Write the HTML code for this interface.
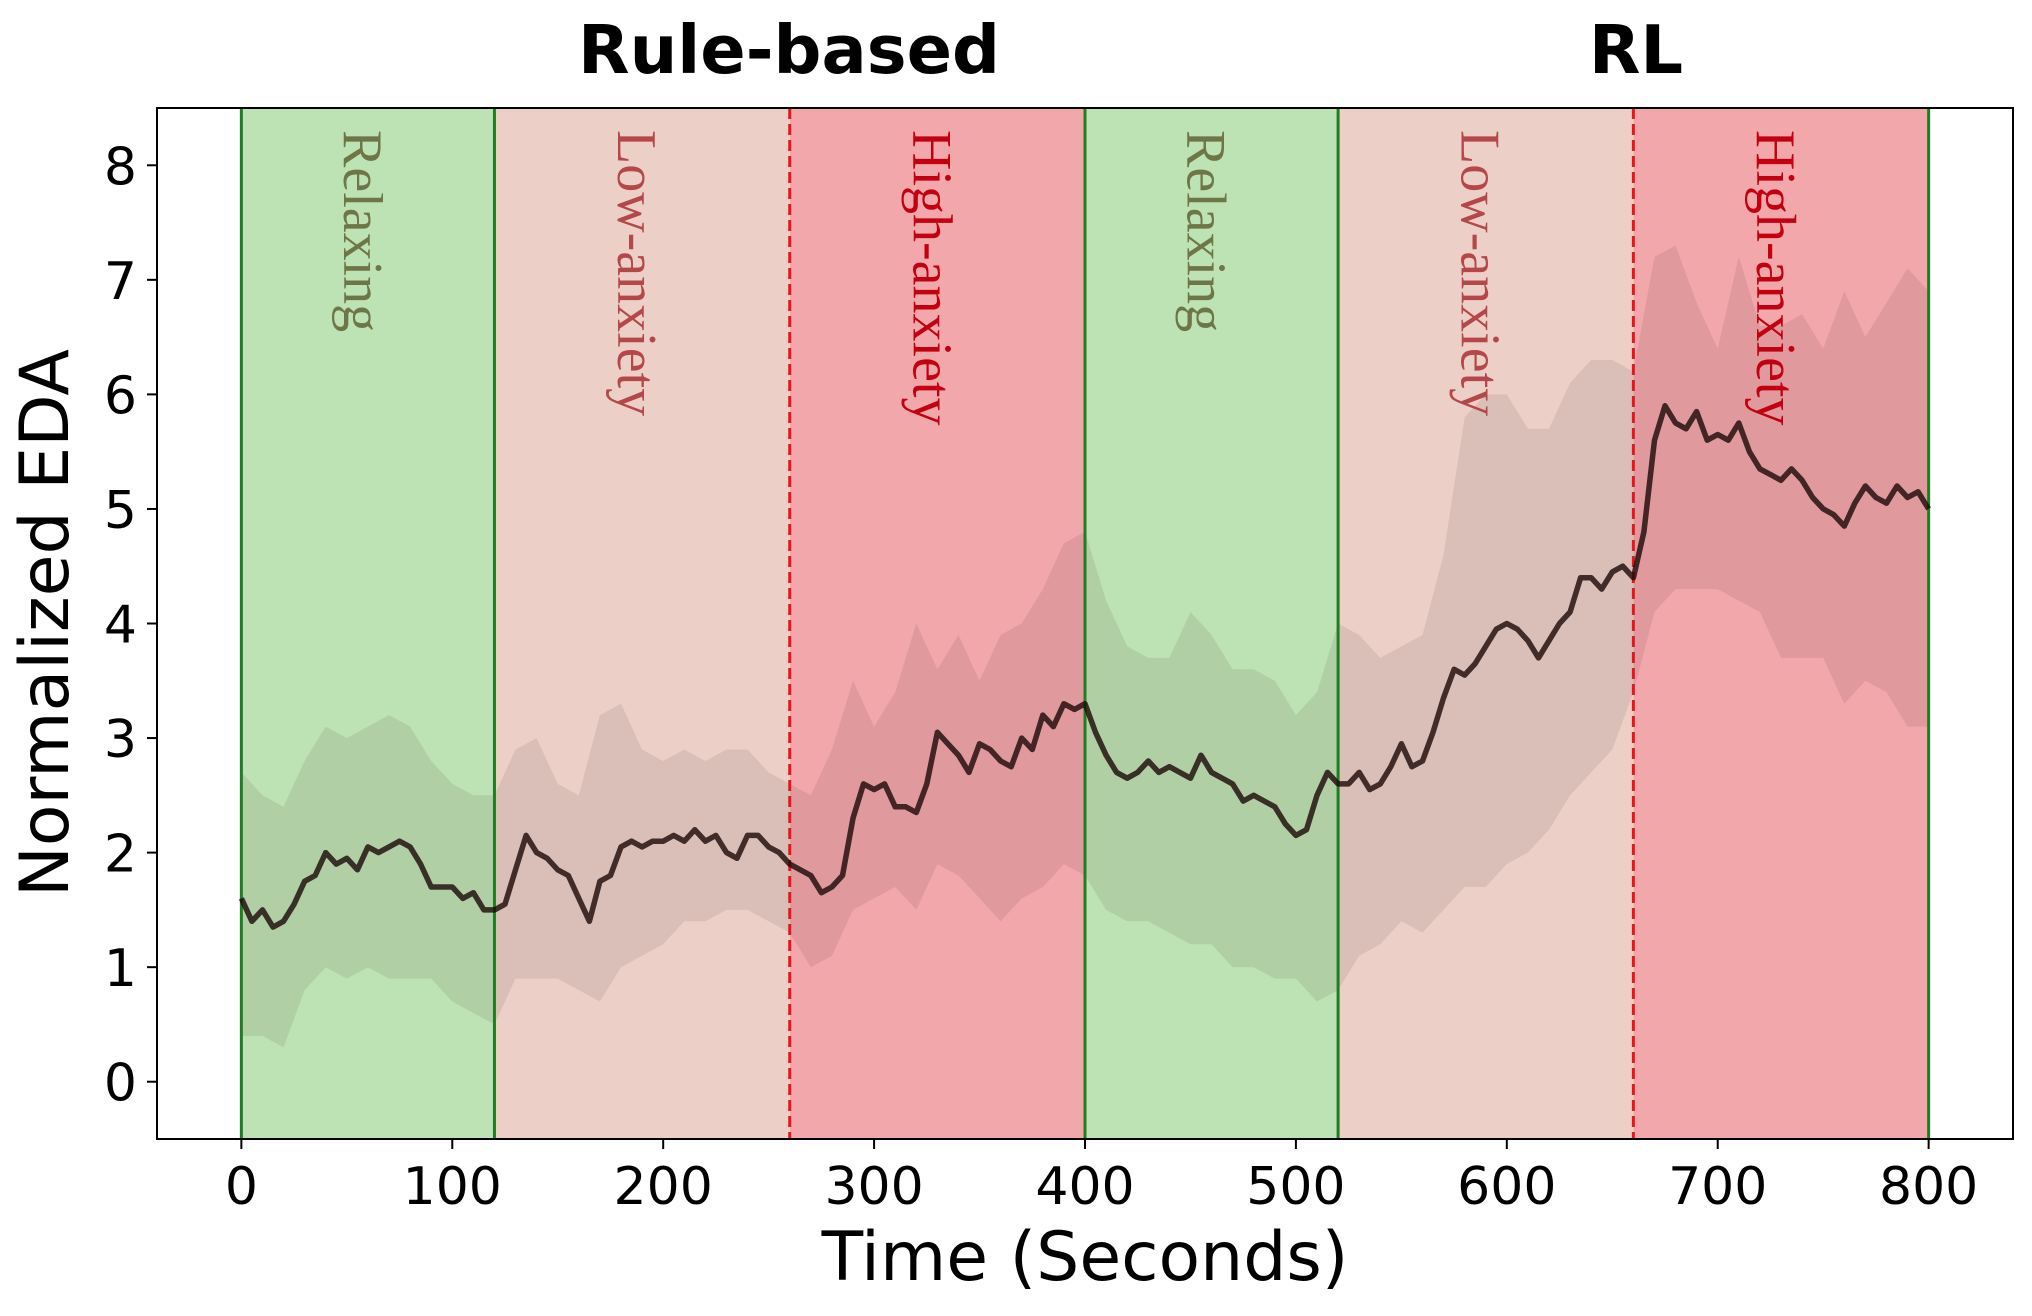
<!DOCTYPE html>
<html><head><meta charset="utf-8"><style>
html,body{margin:0;padding:0;background:#fff;}
svg{display:block;}
</style></head><body>
<svg id="chart" width="2032" height="1316" viewBox="0 0 2032 1316" xmlns="http://www.w3.org/2000/svg">
<g id="spans"></g>
<g id="band"></g>
<g id="vlines"></g>
<g id="meanline"></g>
<g id="labels"></g>
<rect x="157" y="108" width="1856" height="1031" fill="none" stroke="#000" stroke-width="2"/>
<g id="axes"></g>
<text x="789" y="73" font-family="DejaVu Sans, sans-serif" font-weight="bold" font-size="67" text-anchor="middle">Rule-based</text>
<text x="1636" y="73" font-family="DejaVu Sans, sans-serif" font-weight="bold" font-size="67" text-anchor="middle">RL</text>
<text x="1085" y="1280" font-family="DejaVu Sans, sans-serif" font-size="68" text-anchor="middle">Time (Seconds)</text>
<text transform="translate(68,623) rotate(-90)" font-family="DejaVu Sans, sans-serif" font-size="68" text-anchor="middle">Normalized EDA</text>
</svg>
<script>
const meanT = [];
for (let i = 0; i <= 160; i++) meanT.push(i * 5);
const meanVals = [1.6,1.4,1.5,1.35,1.4,1.55,1.75,1.8,2.0,1.9,1.95,1.85,2.05,2.0,2.05,2.1,2.05,1.9,1.7,1.7,1.7,1.6,1.65,1.5,1.5,1.55,1.85,2.15,2.0,1.95,1.85,1.8,1.6,1.4,1.75,1.8,2.05,2.1,2.05,2.1,2.1,2.15,2.1,2.2,2.1,2.15,2.0,1.95,2.15,2.15,2.05,2.0,1.9,1.85,1.8,1.65,1.7,1.8,2.3,2.6,2.55,2.6,2.4,2.4,2.35,2.6,3.05,2.95,2.85,2.7,2.95,2.9,2.8,2.75,3.0,2.9,3.2,3.1,3.3,3.25,3.3,3.05,2.85,2.7,2.65,2.7,2.8,2.7,2.75,2.7,2.65,2.85,2.7,2.65,2.6,2.45,2.5,2.45,2.4,2.25,2.15,2.2,2.5,2.7,2.6,2.6,2.7,2.55,2.6,2.75,2.95,2.75,2.8,3.05,3.35,3.6,3.55,3.65,3.8,3.95,4.0,3.95,3.85,3.7,3.85,4.0,4.1,4.4,4.4,4.3,4.45,4.5,4.4,4.8,5.6,5.9,5.75,5.7,5.85,5.6,5.65,5.6,5.75,5.5,5.35,5.3,5.25,5.35,5.25,5.1,5.0,4.95,4.85,5.05,5.2,5.1,5.05,5.2,5.1,5.15,5.0];
const bandT = [];
for (let i = 0; i <= 80; i++) bandT.push(i * 10);
const upperVals = [2.7,2.5,2.4,2.8,3.1,3.0,3.1,3.2,3.1,2.8,2.6,2.5,2.5,2.9,3.0,2.6,2.5,3.2,3.3,2.9,2.8,2.9,2.8,2.9,2.9,2.7,2.6,2.5,2.9,3.5,3.1,3.4,4.0,3.6,3.9,3.5,3.9,4.0,4.3,4.7,4.8,4.2,3.8,3.7,3.7,4.1,3.9,3.6,3.6,3.5,3.2,3.4,4.0,3.9,3.7,3.8,3.9,4.6,5.8,6.0,6.0,5.7,5.7,6.1,6.3,6.3,6.2,7.2,7.3,6.8,6.4,7.2,6.6,6.6,6.7,6.4,6.9,6.5,6.8,7.1,6.9];
const lowerVals = [0.4,0.4,0.3,0.8,1.0,0.9,1.0,0.9,0.9,0.9,0.7,0.6,0.5,0.9,0.9,0.9,0.8,0.7,1.0,1.1,1.2,1.4,1.4,1.5,1.5,1.4,1.3,1.0,1.1,1.5,1.6,1.7,1.5,1.9,1.8,1.6,1.4,1.6,1.7,1.9,1.8,1.5,1.4,1.4,1.3,1.2,1.2,1.0,1.0,0.9,0.9,0.7,0.8,1.1,1.2,1.4,1.3,1.5,1.7,1.7,1.9,2.0,2.2,2.5,2.7,2.9,3.4,4.1,4.3,4.3,4.3,4.2,4.1,3.7,3.7,3.7,3.3,3.5,3.4,3.1,3.1];
const spanStarts = [0,120,260,400,520,660];
const spanEnds = [120,260,400,520,660,800];
const spanKinds = ["Relaxing","Low-anxiety","High-anxiety","Relaxing","Low-anxiety","High-anxiety"];
const xTicks = [0,100,200,300,400,500,600,700,800];
const yTicks = [0,1,2,3,4,5,6,7,8];

const NS = "http://www.w3.org/2000/svg";
const L = 157, R = 2013, T = 108, B = 1139;
const x = t => L + (t + 40) / 880 * (R - L);
const y = v => B - (v + 0.5) / 9 * (B - T);
const fillOf = {"Relaxing":"#bde2b3","Low-anxiety":"#ecd0c8","High-anxiety":"#f2a7ab"};
const textCol = {"Relaxing":"#6e7648","Low-anxiety":"#b5474a","High-anxiety":"#c2000f"};
function mk(tag, attrs, parent) {
  const e = document.createElementNS(NS, tag);
  for (const k in attrs) e.setAttribute(k, attrs[k]);
  parent.appendChild(e);
  return e;
}
const spans = document.getElementById('spans');
const labels = document.getElementById('labels');
spanStarts.forEach((s, i) => {
  const r = mk('rect', {x: x(s), y: T, width: x(spanEnds[i]) - x(s), height: B - T, fill: fillOf[spanKinds[i]]}, spans);
  
  
  const cx = x((s + spanEnds[i]) / 2) - 6;
  const tx = mk('text', {transform: `translate(${cx},130) rotate(90)`, 'font-family': 'Liberation Serif, serif', 'font-size': 56, fill: textCol[spanKinds[i]], 'dominant-baseline': 'central'}, labels);
  tx.textContent = spanKinds[i];
  
  
});
let d = '';
bandT.forEach((t, i) => { d += (i ? 'L' : 'M') + x(t).toFixed(1) + ',' + y(upperVals[i]).toFixed(1); });
for (let i = bandT.length - 1; i >= 0; i--) d += 'L' + x(bandT[i]).toFixed(1) + ',' + y(lowerVals[i]).toFixed(1);
const band = mk('path', {d: d + 'Z', fill: 'rgba(40,20,20,0.09)'}, document.getElementById('band'));


const vl = document.getElementById('vlines');
[0,120,400,520,800].forEach(t => {
  const l = mk('line', {x1: x(t), x2: x(t), y1: T, y2: B, stroke: '#1f7f1f', 'stroke-width': 3}, vl);
  
  
});
[260,660].forEach(t => {
  const l = mk('line', {x1: x(t), x2: x(t), y1: T, y2: B, stroke: '#e8161a', 'stroke-width': 3, 'stroke-dasharray': '11,5'}, vl);
  
  
});
let md = '';
meanT.forEach((t, i) => { md += (i ? 'L' : 'M') + x(t).toFixed(1) + ',' + y(meanVals[i]).toFixed(1); });
const ml = mk('path', {d: md, fill: 'none', stroke: '#1a0806', 'stroke-opacity': 0.8, 'stroke-width': 5.5, 'stroke-linejoin': 'round'}, document.getElementById('meanline'));


const ax = document.getElementById('axes');
xTicks.forEach(t => {
  const l = mk('line', {x1: x(t), x2: x(t), y1: B, y2: B + 10, stroke: '#000', 'stroke-width': 2}, ax);
  
  
  const tx = mk('text', {x: x(t), y: 1204, 'font-family': 'DejaVu Sans, sans-serif', 'font-size': 52, 'text-anchor': 'middle'}, ax);
  tx.textContent = t;
  
  
});
yTicks.forEach(v => {
  const l = mk('line', {x1: L - 10, x2: L, y1: y(v), y2: y(v), stroke: '#000', 'stroke-width': 2}, ax);
  
  
  const tx = mk('text', {x: 137, y: y(v) + 19, 'font-family': 'DejaVu Sans, sans-serif', 'font-size': 52, 'text-anchor': 'end'}, ax);
  tx.textContent = v;
  
  
});
</script>
</body></html>
